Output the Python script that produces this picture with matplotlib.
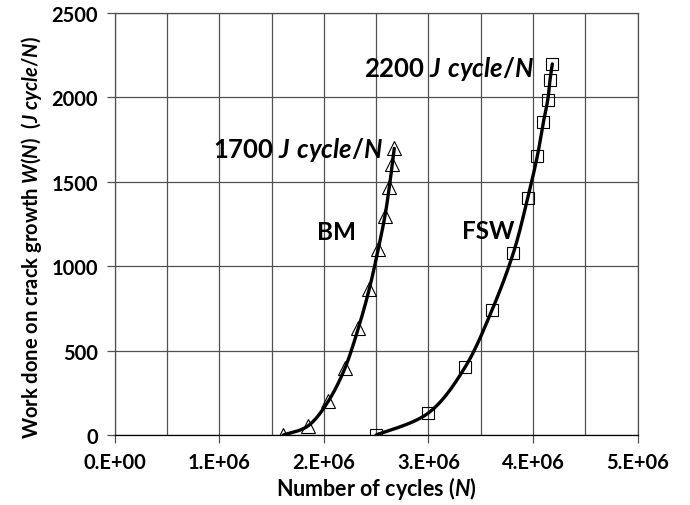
import numpy as np
import matplotlib
matplotlib.use("Agg")
import matplotlib.pyplot as plt
from matplotlib.ticker import MultipleLocator, FuncFormatter

# fonts: Lato bold looks close to the Calibri bold of the original
plt.rcParams['font.family'] = ['Lato', 'DejaVu Sans']
plt.rcParams['font.weight'] = 'bold'
plt.rcParams['axes.labelweight'] = 'bold'
plt.rcParams['mathtext.fontset'] = 'custom'
plt.rcParams['mathtext.rm'] = 'Lato:bold'
plt.rcParams['mathtext.it'] = 'Lato:bold:italic'
plt.rcParams['mathtext.bf'] = 'Lato:bold'

# data
bm_n = [1.612e6, 1.851e6, 2.042e6, 2.202e6, 2.329e6, 2.434e6, 2.520e6, 2.584e6, 2.625e6, 2.654e6, 2.673e6]
bm_w = [0, 55, 200, 397, 632, 865, 1102, 1299, 1467, 1605, 1698]
fsw_n = [2.498e6, 2.998e6, 3.348e6, 3.607e6, 3.811e6, 3.948e6, 4.040e6, 4.098e6, 4.140e6, 4.162e6, 4.184e6]
fsw_w = [0, 130, 400, 740, 1078, 1402, 1651, 1852, 1985, 2105, 2198]


# smoothed line like the spreadsheet one (bezier segments through the points)
def smooth(xs, ys, sx=5e6 / 523, sy=2500 / 422, k=40):
    p = np.column_stack([np.array(xs) / sx, np.array(ys) / sy])
    p = np.vstack([p[0], p, p[-1]])
    out = []
    t = np.linspace(0, 1, k)[:, None]
    for i in range(1, len(p) - 2):
        a, d = p[i], p[i + 1]
        b = a + (p[i + 1] - p[i - 1]) / 6
        c = d - (p[i + 2] - p[i]) / 6
        seg = (1 - t) ** 3 * a + 3 * (1 - t) ** 2 * t * b + 3 * (1 - t) * t ** 2 * c + t ** 3 * d
        out.append(seg)
    out = np.vstack(out)
    return out[:, 0] * sx, out[:, 1] * sy


fig = plt.figure(figsize=(6.9, 5.06), dpi=100)
ax = fig.add_axes([0.1662, 0.1383, 0.758, 0.834])

for n, w in [(bm_n, bm_w), (fsw_n, fsw_w)]:
    cx, cy = smooth(n, w)
    ax.plot(cx, cy, color='black', lw=2.4, zorder=3, solid_capstyle='round')

ax.plot(bm_n, bm_w, linestyle='none', marker='^', ms=10, mfc='none', mec='black', mew=0.8, zorder=4)
ax.plot(fsw_n, fsw_w, linestyle='none', marker='s', ms=8.5, mfc='none', mec='black', mew=0.8, zorder=4)

ax.set_xlim(0, 5e6)
ax.set_ylim(0, 2500)
ax.xaxis.set_major_locator(MultipleLocator(1e6))
ax.xaxis.set_minor_locator(MultipleLocator(5e5))
ax.yaxis.set_major_locator(MultipleLocator(500))
ax.xaxis.set_major_formatter(FuncFormatter(lambda v, p: "%d.E+%02d" % (round(v / 1e6), 0 if v == 0 else 6)))

ax.grid(True, which='major', color='#505050', lw=0.9)
ax.grid(True, which='minor', axis='x', color='#505050', lw=0.9)
ax.set_axisbelow(True)
for s in ax.spines.values():
    s.set_color('#505050')
    s.set_linewidth(0.9)
ax.spines['bottom'].set_color('black')
ax.tick_params(which='major', direction='out', length=6, width=0.9, color='#505050', labelsize=14.5, pad=6)
ax.tick_params(which='minor', length=0)
for lab in ax.get_xticklabels() + ax.get_yticklabels():
    lab.set_fontweight('bold')

ax.set_xlabel(r"Number of cycles ($\mathit{N}$)", fontsize=15.5, labelpad=2)
ax.set_ylabel(r"Work done on crack growth $\mathit{W}$($\mathit{N}$)  ($\mathit{J\ cycle/N}$)", fontsize=14.5)
ax.yaxis.set_label_coords(-0.135, 0.47)

ax.text(2.56e6, 1694, r"1700 $\mathit{J\ cycle/N}$", fontsize=18.5, ha='right', va='center')
ax.text(4.01e6, 2172, r"2200 $\mathit{J\ cycle/N}$", fontsize=18.5, ha='right', va='center')
ax.text(2.117e6, 1204, "BM", fontsize=17.5, ha='center', va='center')
ax.text(3.57e6, 1210, "FSW", fontsize=17.5, ha='center', va='center')

fig.savefig("out.png", dpi=100)
